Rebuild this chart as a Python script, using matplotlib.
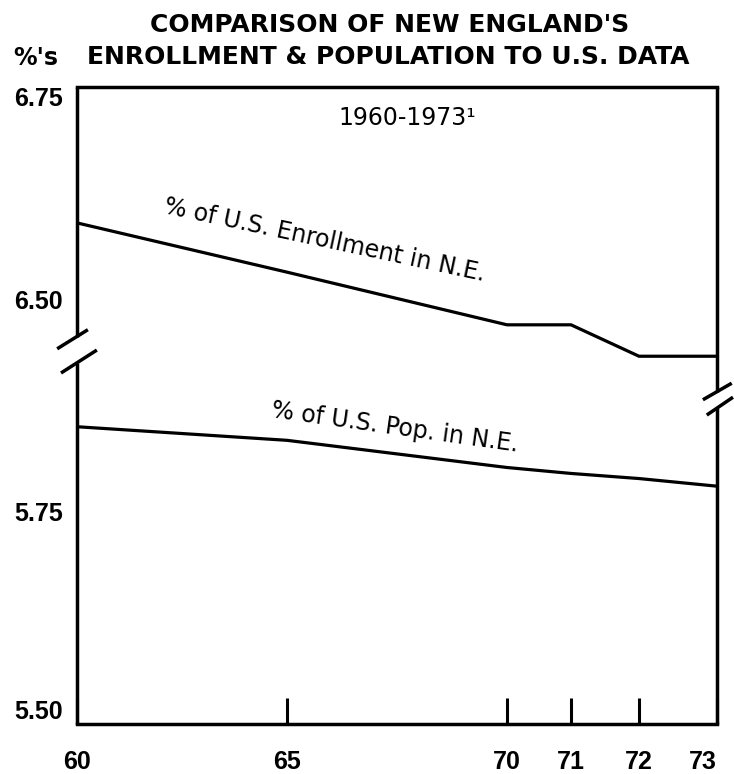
# New England enrollment & population vs U.S. (1960-1973)

import matplotlib
matplotlib.use('Agg')
import matplotlib.pyplot as plt
import numpy as np

plt.rcParams['font.family'] = ['Liberation Sans', 'DejaVu Sans']
dv = 'DejaVu Sans'

# 数据
years = [60, 65, 70, 71, 72, 73]
enroll = [6.59, 6.532, 6.47, 6.47, 6.433, 6.433]   # % of U.S. enrollment in N.E.
pop = [5.85, 5.834, 5.802, 5.795, 5.789, 5.780]    # % of U.S. population in N.E.
ytick_vals = [5.50, 5.75, 6.50, 6.75]
ytick_labels = ['5.50', '5.75', '6.50', '6.75']

# the original x axis is stretched for the last years
year_pos = [0, 210, 430, 494, 562, 640]


def fwd_x(x):
    return np.interp(x, years, year_pos)


def inv_x(p):
    return np.interp(p, year_pos, years)


# broken y axis: 5.50-5.88 and 6.38-6.75 shown together
def fwd_y(v):
    v = np.asarray(v, dtype=float)
    return np.where(v > 6.13, v - 0.5, v)


def inv_y(d):
    d = np.asarray(d, dtype=float)
    return np.where(d > 5.88, d + 0.5, d)


fig = plt.figure(figsize=(7.34, 7.74), dpi=100)
ax = fig.add_axes([77/734, 1 - 724/774, 640/734, 637/774])

ax.set_xscale('function', functions=(fwd_x, inv_x))
ax.set_yscale('function', functions=(fwd_y, inv_y))

ax.plot(years, enroll, color='black', lw=2.3, solid_joinstyle='miter')
ax.plot(years, pop, color='black', lw=2.3)

ax.set_xlim(60, 73)
ax.set_ylim(5.50, 6.75)

ax.set_xticks(years)
ax.set_xticklabels([str(y) for y in years], fontweight='bold')
ax.set_yticks(ytick_vals)
ax.set_yticklabels(ytick_labels, fontweight='bold')
ax.minorticks_off()

ax.tick_params(axis='x', direction='in', length=19, width=2.2, pad=19,
               labelsize=18)
ax.tick_params(axis='y', length=0, pad=10, labelsize=18)
ylabs = ax.get_yticklabels()
ylabs[0].set_va('bottom')
ylabs[-1].set_va('top')
ax.get_xticklabels()[-1].set_ha('right')

# spines with breaks
for s in ['top', 'bottom']:
    ax.spines[s].set_linewidth(2.5)
ax.spines['left'].set_visible(False)
ax.spines['right'].set_visible(False)

kw = dict(transform=ax.transAxes, clip_on=False, color='black', lw=2.5,
          solid_capstyle='butt')
ax.plot([0, 0], [0, 0.567], **kw)
ax.plot([0, 0], [0.608, 1], **kw)
ax.plot([1, 1], [0, 0.496], **kw)
ax.plot([1, 1], [0.521, 1], **kw)
# break marks
ax.plot([-0.031, 0.017], [0.589, 0.619], **kw)
ax.plot([-0.025, 0.031], [0.551, 0.587], **kw)
ax.plot([0.978, 1.023], [0.509, 0.535], **kw)
ax.plot([0.984, 1.025], [0.485, 0.513], **kw)

# texts
fig.text(390/734, 1 - 25/774, "COMPARISON OF NEW ENGLAND'S",
         ha='center', va='center', fontsize=18, fontweight='bold', family=dv)
fig.text(388/734, 1 - 57/774, "ENROLLMENT & POPULATION TO U.S. DATA",
         ha='center', va='center', fontsize=18, fontweight='bold', family=dv)
fig.text(36/734, 1 - 58/774, "%'s", ha='center', va='center',
         fontsize=17, fontweight='bold', family=dv)

ax.text(0.516, 0.951, '1960-1973¹', transform=ax.transAxes,
        ha='center', va='center', fontsize=17, family=dv)
ax.text(0.3875, 0.760, '% of U.S. Enrollment in N.E.', transform=ax.transAxes,
        ha='center', va='center', fontsize=17, rotation=-12,
        rotation_mode='anchor', family=dv)
ax.text(0.497, 0.465, '% of U.S. Pop. in N.E.', transform=ax.transAxes,
        ha='center', va='center', fontsize=17, rotation=-8,
        rotation_mode='anchor', family=dv)

fig.savefig('out.png', dpi=100)
